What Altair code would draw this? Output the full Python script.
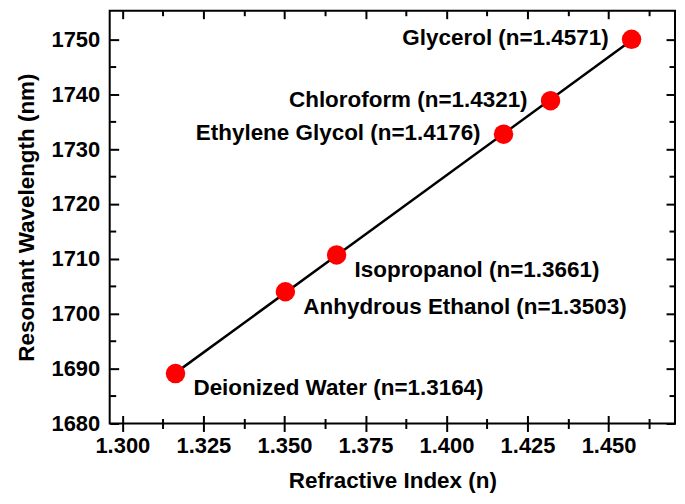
import altair as alt
import pandas as pd

# ---- data ----
solvents = ["Deionized Water", "Anhydrous Ethanol", "Isopropanol",
            "Ethylene Glycol", "Chloroform", "Glycerol"]
refractive_index = [1.3164, 1.3503, 1.3661, 1.4176, 1.4321, 1.4571]
wavelength = [1689.1, 1704.0, 1710.7, 1732.7, 1738.8, 1750.0]
labels_left_side = ["Ethylene Glycol", "Chloroform", "Glycerol"]

x_major = [1.300, 1.325, 1.350, 1.375, 1.400, 1.425, 1.450]
x_minor = [1.3125, 1.3375, 1.3625, 1.3875, 1.4125, 1.4375, 1.4625]
y_major = [1680, 1690, 1700, 1710, 1720, 1730, 1740, 1750]
y_minor = [1685, 1695, 1705, 1715, 1725, 1735, 1745]
x_domain = [1.2961, 1.4705]
y_domain = [1680, 1755.2]

df = pd.DataFrame({"solvent": solvents, "n": refractive_index, "wl": wavelength})
df["label"] = [f"{s} (n={n:.4f})" for s, n in zip(solvents, refractive_index)]

FONT = "Liberation Sans"
xs = alt.Scale(domain=x_domain, nice=False, zero=False)
ys = alt.Scale(domain=y_domain, nice=False, zero=False)


def ax(orient, values, offset, size, labels=False, title=None, **kw):
    return alt.Axis(orient=orient, values=values, offset=offset, tickSize=size,
                    tickWidth=2, tickColor="black", domain=False, grid=False,
                    labels=labels, title=title, labelFlush=False,
                    labelFont=FONT, labelFontSize=22, labelFontWeight="bold",
                    labelColor="black", titleFont=FONT, titleFontSize=22.5,
                    titleFontWeight="bold", titleColor="black", **kw)


base = alt.Chart(df)

line = base.transform_regression("n", "wl").mark_line(
    color="black", strokeWidth=2.5
).encode(
    x=alt.X("n:Q", scale=xs, axis=ax("bottom", x_major, -8, 16, labels=True,
                                     title="Refractive Index (n)", format=".3f",
                                     labelPadding=4, titlePadding=13)),
    y=alt.Y("wl:Q", scale=ys, axis=ax("left", y_major, -9, 9, labels=True,
                                      title="Resonant Wavelength (nm)", format="d",
                                      labelPadding=10, titlePadding=12)),
)

points = base.mark_point(filled=True, color="#ff0000", opacity=1, size=380).encode(
    x=alt.X("n:Q", scale=xs, axis=ax("bottom", x_minor, -5, 10)),
    y=alt.Y("wl:Q", scale=ys, axis=ax("left", y_minor, -6, 6)),
)

text_left = base.transform_filter(
    alt.FieldOneOfPredicate(field="solvent", oneOf=labels_left_side)
).mark_text(align="right", baseline="middle", dx=-23, dy=-1, font=FONT,
            fontSize=22.5, fontWeight="bold", color="black").encode(
    x=alt.X("n:Q", scale=xs, axis=ax("top", x_major, -8, 8)),
    y=alt.Y("wl:Q", scale=ys, axis=ax("right", y_major, -9, 9)),
    text="label:N",
)

text_right = base.transform_filter(
    ~alt.FieldOneOfPredicate(field="solvent", oneOf=labels_left_side)
).mark_text(align="left", baseline="middle", dx=18, dy=15, font=FONT,
            fontSize=22.5, fontWeight="bold", color="black").encode(
    x=alt.X("n:Q", scale=xs, axis=ax("top", x_minor, -5, 5)),
    y=alt.Y("wl:Q", scale=ys, axis=ax("right", y_minor, -6, 6)),
    text="label:N",
)

chart = alt.layer(line, points, text_left, text_right).resolve_axis(
    x="independent", y="independent"
).properties(
    width=567, height=414, autosize="none",
    padding={"left": 102, "top": 2, "right": 2, "bottom": 70},
).configure_view(stroke="black", strokeWidth=2)

chart.save("out.html", embed_options={"renderer": "svg", "actions": False})
